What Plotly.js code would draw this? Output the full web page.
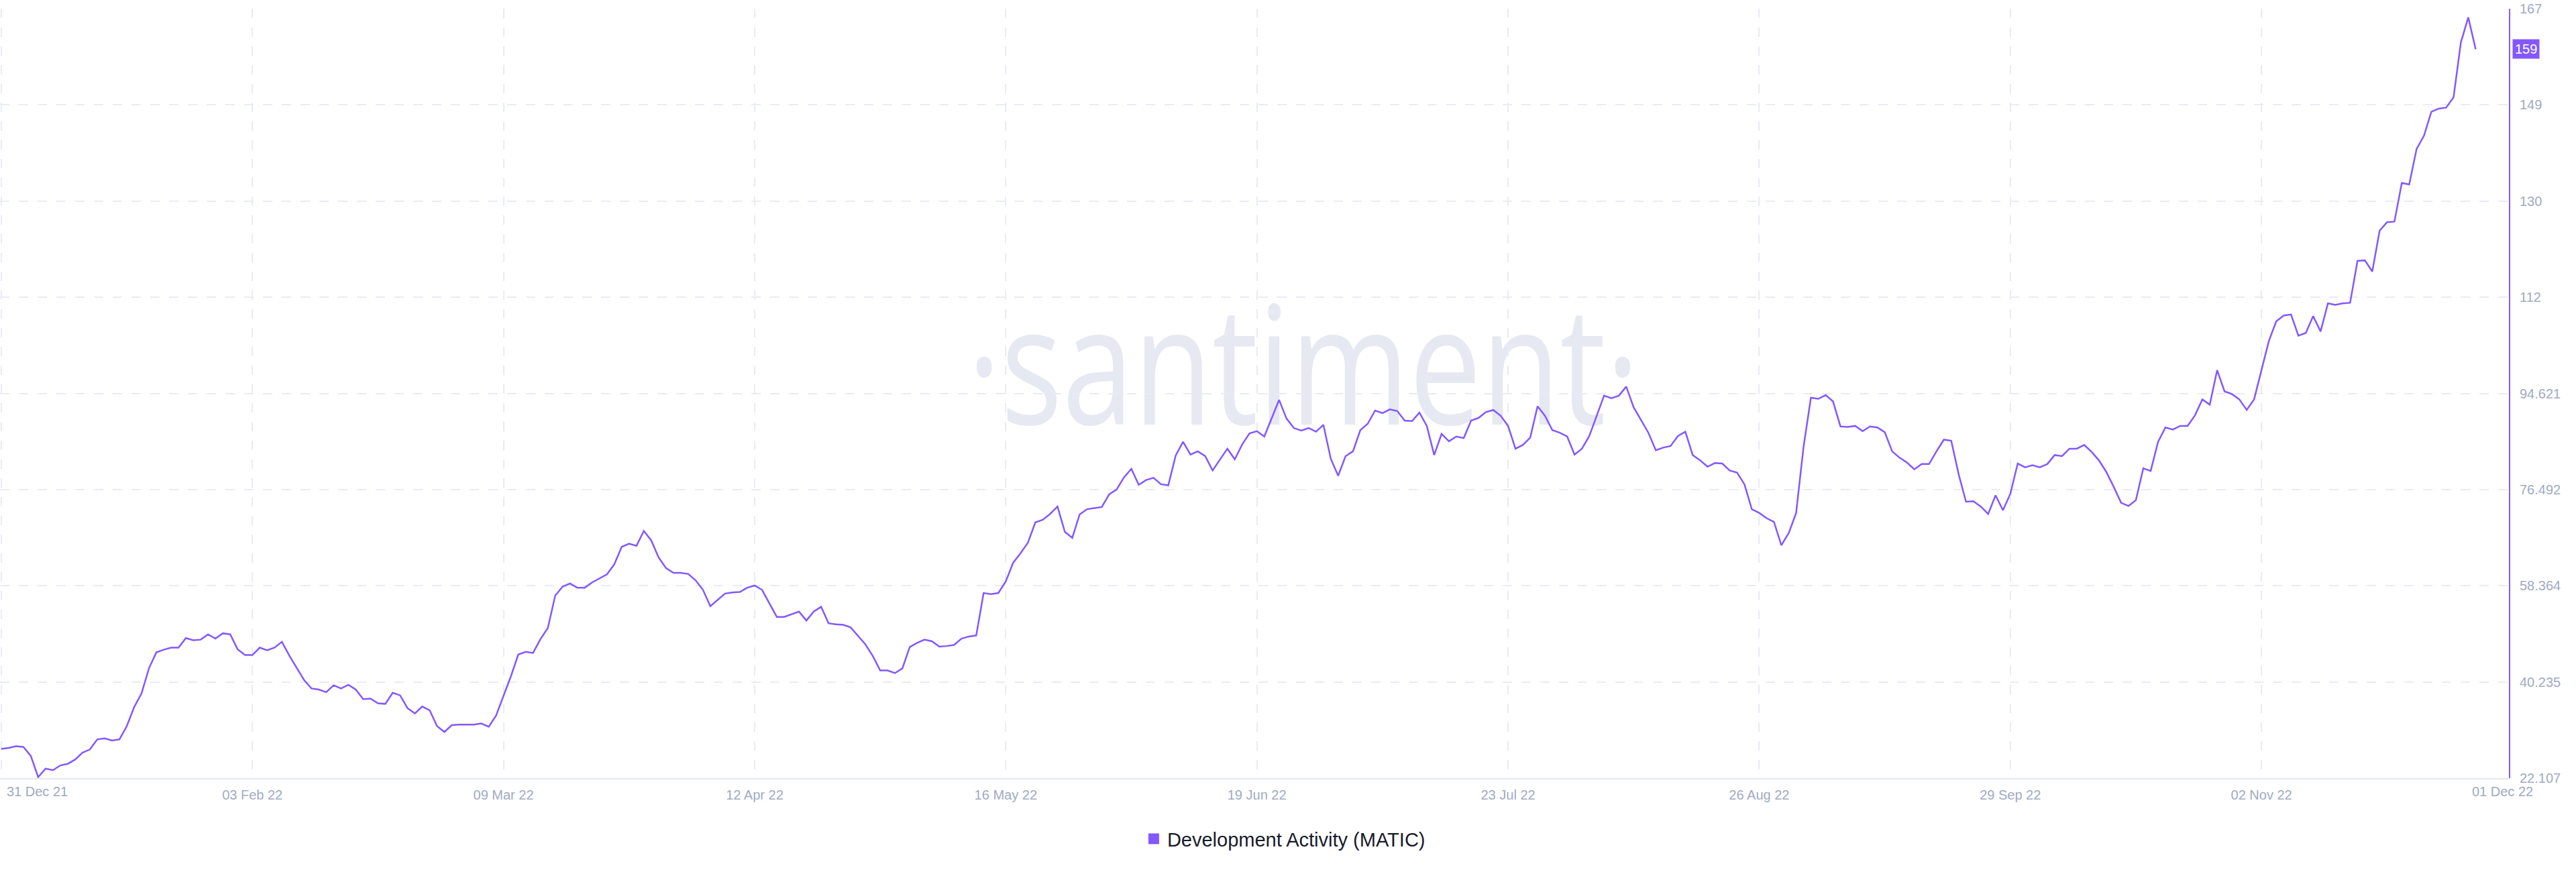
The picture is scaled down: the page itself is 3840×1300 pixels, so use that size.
<!DOCTYPE html>
<html>
<head>
<meta charset="utf-8">
<script src="https://cdn.plot.ly/plotly-3.0.1.min.js"></script>
<style>
  html, body { margin: 0; padding: 0; background: #ffffff; }
  #wrap { position: relative; width: 3840px; height: 1300px; overflow: hidden; }
  #wm { position: absolute; left: 0; top: 0; z-index: 0; }
  #chart { position: absolute; left: 0; top: 0; width: 3840px; height: 1300px; z-index: 1; }
</style>
</head>
<body>
<div id="wrap">
  <svg id="wm" width="3840" height="1300">
    <text x="1442" y="633" font-family="Open Sans" font-weight="500" font-size="245" fill="#e6e8f2"
          textLength="1002" lengthAdjust="spacingAndGlyphs">·santiment·</text>
  </svg>
  <div id="chart"></div>
</div>
<script>
// ---- data ----
const startDate = '2021-12-31';
const seriesName = 'Development Activity (MATIC)';
const devActivity = [
  27.6, 27.8, 28.1, 28.0, 26.3, 22.3, 23.9, 23.6, 24.5, 24.8,
  25.6, 26.9, 27.5, 29.4, 29.6, 29.2, 29.4, 31.9, 35.5, 38.1,
  42.8, 45.8, 46.3, 46.7, 46.7, 48.5, 48.1, 48.2, 49.2, 48.4,
  49.4, 49.2, 46.4, 45.3, 45.3, 46.7, 46.2, 46.7, 47.8, 45.2,
  42.9, 40.6, 39.0, 38.8, 38.3, 39.6, 39.0, 39.7, 38.8, 37.0,
  37.1, 36.2, 36.1, 38.2, 37.7, 35.3, 34.3, 35.6, 34.9, 31.9,
  30.8, 32.1, 32.2, 32.2, 32.2, 32.4, 31.8, 33.9, 37.5, 41.3,
  45.4, 45.9, 45.7, 48.3, 50.4, 56.5, 58.2, 58.8, 58.0, 58.0,
  59.0, 59.8, 60.5, 62.4, 65.7, 66.3, 65.9, 68.7, 66.9, 63.7,
  61.7, 60.8, 60.8, 60.6, 59.4, 57.6, 54.5, 55.7, 56.9, 57.1,
  57.2, 58.0, 58.4, 57.6, 55.0, 52.5, 52.5, 53.0, 53.5, 51.8,
  53.5, 54.4, 51.3, 51.1, 51.0, 50.5, 48.9, 47.3, 45.1, 42.4,
  42.4, 41.9, 42.8, 46.8, 47.6, 48.2, 47.9, 46.9, 47.0, 47.2,
  48.4, 48.8, 49.0, 57.0, 56.8, 57.0, 59.2, 62.7, 64.5, 66.5,
  70.3, 70.8, 71.9, 73.3, 68.5, 67.4, 71.8, 72.8, 73.0, 73.2,
  75.6, 76.5, 78.8, 80.4, 77.4, 78.3, 78.7, 77.5, 77.3, 82.9,
  85.5, 83.1, 83.7, 82.8, 80.1, 82.1, 84.2, 82.2, 85.0, 87.1,
  87.5, 86.5, 90.0, 93.4, 89.9, 88.1, 87.6, 88.1, 87.4, 88.7,
  82.3, 79.1, 82.8, 83.7, 87.7, 88.9, 91.4, 90.9, 91.6, 91.3,
  89.5, 89.4, 91.0, 88.5, 83.0, 87.0, 85.6, 86.5, 86.2, 89.5,
  90.0, 91.1, 91.5, 90.4, 88.5, 84.2, 84.9, 86.3, 92.2, 90.4,
  87.7, 87.2, 86.5, 83.1, 84.2, 86.6, 90.4, 94.2, 93.7, 94.2,
  95.9, 92.0, 89.6, 87.2, 83.9, 84.4, 84.7, 86.6, 87.4, 83.0,
  82.0, 80.8, 81.5, 81.4, 80.1, 79.7, 77.5, 72.8, 72.1, 71.1,
  70.4, 66.0, 68.3, 72.1, 84.5, 93.8, 93.6, 94.3, 93.1, 88.4,
  88.3, 88.5, 87.5, 88.4, 88.2, 87.3, 83.7, 82.5, 81.6, 80.3,
  81.3, 81.3, 83.7, 85.9, 85.7, 79.4, 74.2, 74.3, 73.3, 71.9,
  75.4, 72.6, 75.7, 81.4, 80.7, 81.1, 80.7, 81.3, 83.0, 82.8,
  84.2, 84.2, 84.9, 83.6, 82.0, 79.8, 77.0, 74.0, 73.4, 74.5,
  80.5, 80.0, 85.5, 88.2, 87.8, 88.5, 88.5, 90.5, 93.5, 92.5,
  99.0, 95.0, 94.5, 93.5, 91.5, 93.5, 99.0, 104.5, 108.2, 109.3,
  109.5, 105.5, 106.0, 109.2, 106.3, 111.6, 111.3, 111.6, 111.7, 119.6,
  119.7, 117.6, 125.3, 126.9, 127.0, 134.3, 134.0, 140.7, 143.2, 147.7,
  148.3, 148.5, 150.4, 160.8, 165.5, 159.5
];
const xTickDates = ['2021-12-31', '2022-02-03', '2022-03-09', '2022-04-12', '2022-05-16',
                    '2022-06-19', '2022-07-23', '2022-08-26', '2022-09-29', '2022-11-02'];
const xTickLabels = ['', '03 Feb 22', '09 Mar 22', '12 Apr 22', '16 May 22',
                     '19 Jun 22', '23 Jul 22', '26 Aug 22', '29 Sep 22', '02 Nov 22'];
const edgeLabels = ['31 Dec 21', '01 Dec 22'];
const yTickVals = [22.107, 40.235, 58.364, 76.492, 94.621, 112.75, 130.878, 149.007, 167.135];
const yTickLabels = ['22.107', '40.235', '58.364', '76.492', '94.621', '112', '130', '149', '167'];
const lastLabel = '159';

// consecutive daily dates for the series
const dates = [];
{
  const t0 = Date.UTC(2021, 11, 31);
  for (let i = 0; i < devActivity.length; i++) {
    dates.push(new Date(t0 + i * 86400000).toISOString().slice(0, 10));
  }
}

const purple = '#8358ff';
const gridCol = '#e9ebf5';
const tickCol = '#9faac4';
const fontFam = 'Liberation Sans, Arial, sans-serif';

const traces = [
  {
    type: 'scatter', mode: 'lines', x: dates, y: devActivity,
    line: { color: purple, width: 2.5 }, name: seriesName, showlegend: false,
    hoverinfo: 'skip'
  },
  {
    type: 'scatter', mode: 'markers', x: [null], y: [null], name: seriesName,
    marker: { symbol: 'square', size: 18, color: purple }, showlegend: true
  }
];

const layout = {
  width: 3840, height: 1300,
  margin: { l: 0, r: 100, t: 13, b: 140, pad: 0 },
  paper_bgcolor: 'rgba(0,0,0,0)',
  plot_bgcolor: 'rgba(0,0,0,0)',
  font: { family: fontFam, color: tickCol, size: 20 },
  showlegend: true,
  legend: {
    orientation: 'h', x: 0.512, xanchor: 'center', y: -0.079, yanchor: 'middle',
    font: { size: 29, color: '#181b2b', family: fontFam }, bgcolor: 'rgba(0,0,0,0)'
  },
  xaxis: {
    type: 'date', range: ['2021-12-30 20:00', '2022-12-05 12:00'],
    tickmode: 'array', tickvals: xTickDates, ticktext: xTickLabels,
    showgrid: true, gridcolor: gridCol, gridwidth: 2, griddash: '14px,14px',
    showline: true, linecolor: '#e4e7f3', linewidth: 2,
    ticks: '', zeroline: false, ticklabelstandoff: 6,
    tickfont: { size: 20, color: tickCol, family: fontFam }
  },
  yaxis: {
    side: 'right', range: [22.107, 167.135],
    tickmode: 'array', tickvals: yTickVals, ticktext: yTickLabels,
    showgrid: true, gridcolor: gridCol, gridwidth: 2, griddash: '14px,14px',
    showline: true, linecolor: purple, linewidth: 2,
    ticks: '', zeroline: false, ticklabelstandoff: 10,
    tickfont: { size: 20, color: tickCol, family: fontFam }
  },
  annotations: [
    { xref: 'paper', yref: 'paper', x: 55 / 3740, y: -20 / 1147, xanchor: 'center', yanchor: 'middle',
      text: edgeLabels[0], showarrow: false, font: { size: 20, color: tickCol, family: fontFam } },
    { xref: 'paper', yref: 'paper', x: 3730 / 3740, y: -20 / 1147, xanchor: 'center', yanchor: 'middle',
      text: edgeLabels[1], showarrow: false, font: { size: 20, color: tickCol, family: fontFam } },
    { xref: 'paper', yref: 'y', x: 1, y: 159.5, xanchor: 'left', yanchor: 'middle', xshift: 5,
      text: lastLabel, showarrow: false, bgcolor: purple, borderpad: 3,
      font: { size: 20, color: '#ffffff', family: fontFam } }
  ]
};

Plotly.newPlot('chart', traces, layout, { displayModeBar: false, staticPlot: true });
</script>
</body>
</html>
